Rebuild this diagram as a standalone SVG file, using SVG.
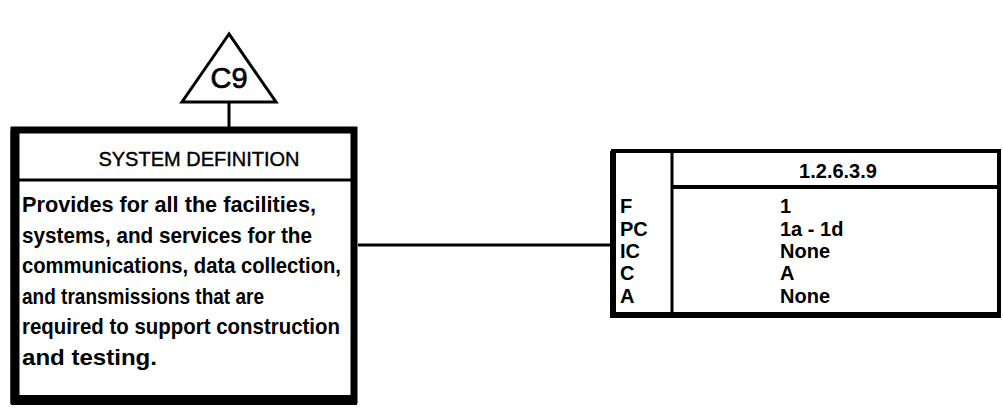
<svg xmlns="http://www.w3.org/2000/svg" width="1003" height="408" viewBox="0 0 1003 408">
<style>
.t{font-family:"Liberation Sans",Arial,sans-serif;font-weight:bold;fill:#000}
.b{font-size:22px}
.r{font-size:20px}
.h{font-size:20px;font-weight:normal;stroke:#000;stroke-width:0.4}
.ln{stroke:#000;fill:none}
</style>
<rect width="1003" height="408" fill="#fff"/>
<g id="c9">
<polygon points="229,34 182,102 276,102" class="ln" stroke-width="3"/>
<text x="229" y="88" text-anchor="middle" class="t" style="font-size:29px;font-weight:normal;stroke:#000;stroke-width:0.7">C9</text>
</g>
<g id="connectors">
<line x1="229" y1="102" x2="229" y2="128" class="ln" stroke-width="3"/>
<line x1="358" y1="245" x2="612" y2="245" class="ln" stroke-width="3"/>
</g>
<g id="system-definition">
<rect x="14" y="130" width="340" height="270" class="ln" stroke-width="7"/>
<line x1="15" y1="130" x2="15" y2="404" class="ln" stroke-width="9"/>
<line x1="11" y1="400" x2="357" y2="400" class="ln" stroke-width="10"/>
<line x1="17" y1="180" x2="351" y2="180" class="ln" stroke-width="3"/>
<text x="199" y="166" text-anchor="middle" class="t h">SYSTEM DEFINITION</text>
<text class="t b">
<tspan x="22" y="212" textLength="294" lengthAdjust="spacingAndGlyphs">Provides for all the facilities,</tspan>
<tspan x="22" y="243" textLength="290" lengthAdjust="spacingAndGlyphs">systems, and services for the</tspan>
<tspan x="22" y="273" textLength="319" lengthAdjust="spacingAndGlyphs">communications, data collection,</tspan>
<tspan x="22" y="304" textLength="242" lengthAdjust="spacingAndGlyphs">and transmissions that are</tspan>
<tspan x="22" y="334" textLength="318" lengthAdjust="spacingAndGlyphs">required to support construction</tspan>
<tspan x="22" y="365" textLength="135" lengthAdjust="spacingAndGlyphs">and testing.</tspan>
</text>
</g>
<g id="wbs-1.2.6.3.9">
<rect x="613" y="151" width="386" height="164" class="ln" stroke-width="4"/>
<line x1="613" y1="151" x2="613" y2="318" class="ln" stroke-width="6"/>
<line x1="611" y1="315" x2="1001" y2="315" class="ln" stroke-width="6"/>
<line x1="672" y1="151" x2="672" y2="315" class="ln" stroke-width="3"/>
<line x1="672" y1="187" x2="1001" y2="187" class="ln" stroke-width="4"/>
<text x="838" y="178" text-anchor="middle" class="t r">1.2.6.3.9</text>
<text class="t r">
<tspan x="620" y="213">F</tspan>
<tspan x="620" y="236">PC</tspan>
<tspan x="620" y="258">IC</tspan>
<tspan x="620" y="280">C</tspan>
<tspan x="620" y="303">A</tspan>
</text>
<text class="t r">
<tspan x="780" y="213">1</tspan>
<tspan x="780" y="236">1a - 1d</tspan>
<tspan x="780" y="258">None</tspan>
<tspan x="780" y="280">A</tspan>
<tspan x="780" y="303">None</tspan>
</text>
</g>
</svg>
